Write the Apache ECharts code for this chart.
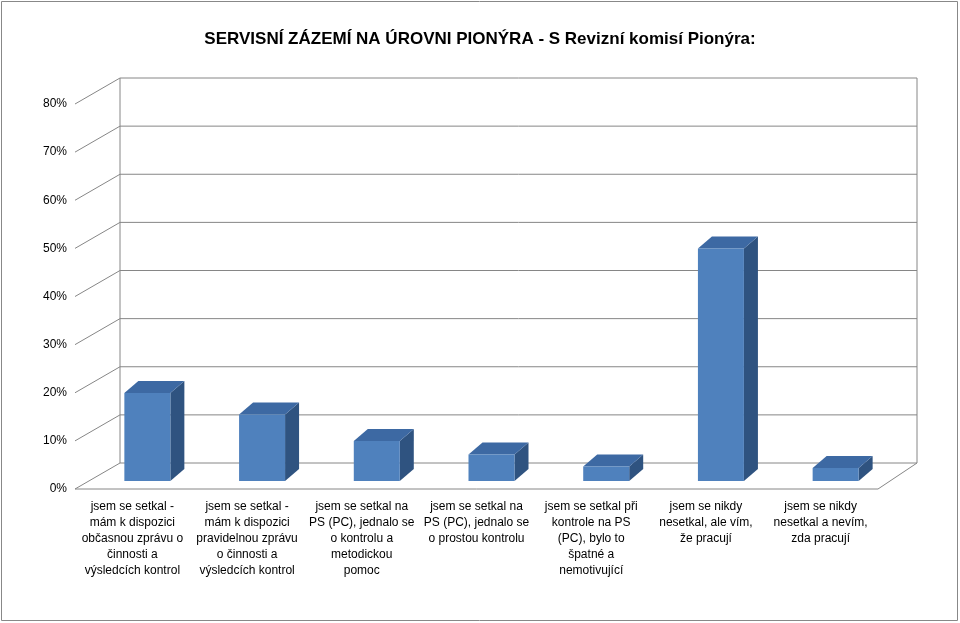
<!DOCTYPE html><html><head><meta charset="utf-8"><script src="https://cdn.jsdelivr.net/npm/echarts@6/dist/echarts.min.js"></script></head><body style="margin:0"><div id="c" style="width:960px;height:623px;"></div><script>
const categories=["jsem se setkal -\nmám k dispozici\nobčasnou zprávu o\nčinnosti a\nvýsledcích kontrol","jsem se setkal -\nmám k dispozici\npravidelnou zprávu\no činnosti a\nvýsledcích kontrol","jsem se setkal na\nPS (PC), jednalo se\no kontrolu a\nmetodickou\npomoc","jsem se setkal na\nPS (PC), jednalo se\no prostou kontrolu","jsem se setkal při\nkontrole na PS\n(PC), bylo to\nšpatné a\nnemotivující","jsem se nikdy\nnesetkal, ale vím,\nže pracují","jsem se nikdy\nnesetkal a nevím,\nzda pracují"];
const values=[18.3,13.8,8.3,5.5,3.0,48.3,2.7];
const ticks=[0,10,20,30,40,50,60,70,80];
const DX=45,DY=-26;
const ch=echarts.init(document.getElementById('c'));
ch.setOption({
graphic:[{type:'rect',shape:{x:1.5,y:1.5,width:956,height:619},style:{fill:'none',stroke:'#888',lineWidth:1}}],
title:{text:'SERVISNÍ ZÁZEMÍ NA ÚROVNI PIONÝRA - S Revizní komisí Pionýra:',left:'center',top:26,textStyle:{fontFamily:'Liberation Sans',fontSize:17,fontWeight:'bold',color:'#000'}},
grid:{left:75,right:82,top:104,bottom:134},
xAxis:{type:'category',data:categories,axisLine:{show:false},axisTick:{show:false},axisLabel:{interval:0,fontFamily:'Liberation Sans',fontSize:12,lineHeight:16,color:'#000',margin:10}},
yAxis:{type:'value',min:0,max:80,interval:10,axisLabel:{formatter:'{value}%',fontFamily:'Liberation Sans',fontSize:12,color:'#000',margin:8},splitLine:{show:false},axisLine:{show:false}},
series:[{type:'custom',silent:true,data:ticks.map(t=>[0,t]),z:1,renderItem:(p,api)=>{
 const cs=p.coordSys;const y=api.coord([0,api.value(1)])[1];const x0=cs.x,x1=cs.x+cs.width;
 const ch=[{type:'polyline',shape:{points:[[x0,y],[x0+DX,y+DY],[x1+DX-6,y+DY]]},style:{stroke:'#868686',lineWidth:1,fill:null}}];
 if(api.value(1)===0){ch.push({type:'polyline',shape:{points:[[x0,y],[x1,y],[x1+DX-6,y+DY]]},style:{stroke:'#868686',lineWidth:1,fill:null}});
  ch.push({type:'line',shape:{x1:x0+DX,y1:y+DY,x2:x0+DX,y2:cs.y+DY},style:{stroke:'#868686',lineWidth:1}});
  ch.push({type:'line',shape:{x1:x1+DX-6,y1:y+DY,x2:x1+DX-6,y2:cs.y+DY},style:{stroke:'#868686',lineWidth:1}});}
 return {type:'group',children:ch};}},
{type:'custom',data:values.map((v,i)=>[i,v]),z:2,renderItem:(p,api)=>{
 const b=api.coord([api.value(0),0]),t=api.coord([api.value(0),api.value(1)]);
 const ox=15,oy=-8,w=46,dx=14,dy=-12;const l=b[0]+ox-w/2,r=l+w,yb=b[1]+oy,yt=t[1]+oy;
 return {type:'group',children:[
 {type:'polygon',shape:{points:[[r,yb],[r+dx,yb+dy],[r+dx,yt+dy],[r,yt]]},style:{fill:'#2F5380'}},
 {type:'polygon',shape:{points:[[l,yt],[l+dx,yt+dy],[r+dx,yt+dy],[r,yt]]},style:{fill:'#3D69A3'}},
 {type:'rect',shape:{x:l,y:yt,width:w,height:yb-yt},style:{fill:'#4F81BD'}}]};}}]
});
</script></body></html>
